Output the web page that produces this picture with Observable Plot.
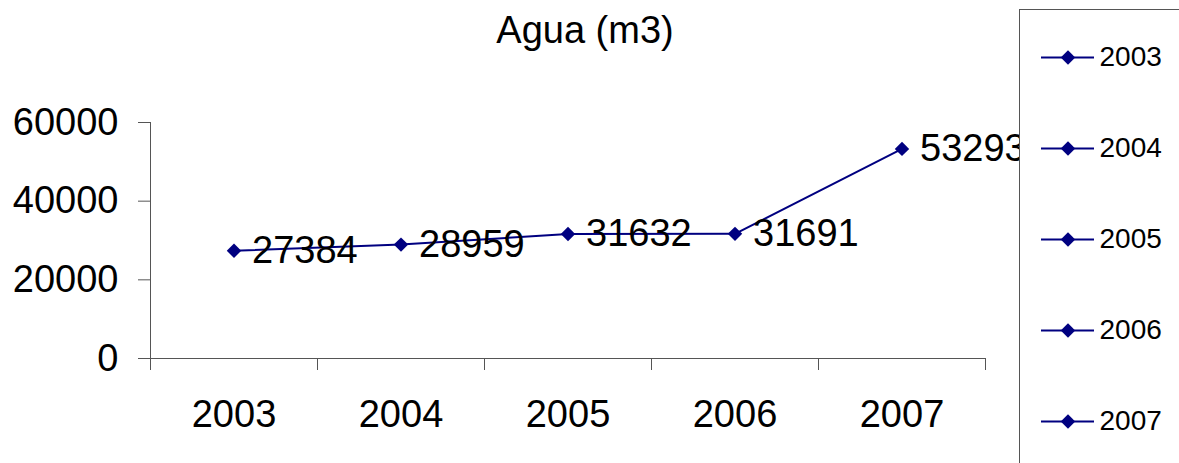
<!DOCTYPE html>
<html><head><meta charset="utf-8">
<script src="https://cdn.jsdelivr.net/npm/d3@7"></script>
<script src="https://cdn.jsdelivr.net/npm/@observablehq/plot@0.6"></script>
<style>
html,body{margin:0;padding:0;background:#fff;overflow:hidden;width:1179px;height:463px;}
#wrap{position:relative;width:1179px;height:463px;overflow:hidden;font-family:"Liberation Sans",Arial,sans-serif;}
#chart{position:absolute;left:0;top:0;}
#title{position:absolute;left:0;top:11px;width:1170px;text-align:center;font-size:38px;line-height:38px;color:#000;}
#legend{position:absolute;left:1019px;top:9px;width:200px;height:480px;}
#legend svg{max-width:none !important;}
</style></head><body>
<div id="wrap"><div id="chart"></div><div id="title"></div><div id="legend"></div></div>
<script>
const title = "Agua (m3)";
const years = [2003, 2004, 2005, 2006, 2007];
const values = [27384, 28959, 31632, 31691, 53293];
const yTicks = [0, 20000, 40000, 60000];
const legendLabels = ["2003", "2004", "2005", "2006", "2007"];

const data = years.map((year, i) => ({year, value: values[i]}));
const xBounds = years.map(y => y - 0.5).concat([years[years.length - 1] + 0.5]);
const navy = "#000080";
const axisColor = "#555";
const font = '"Liberation Sans", Arial, sans-serif';

document.getElementById("title").textContent = title;

const chart = Plot.plot({
  width: 1179, height: 463,
  marginLeft: 150, marginRight: 194, marginTop: 122, marginBottom: 105,
  x: {domain: [xBounds[0], xBounds[xBounds.length - 1]], label: null},
  y: {domain: [yTicks[0], yTicks[yTicks.length - 1]], label: null},
  style: {fontFamily: font, background: "transparent", color: "#000", overflow: "visible"},
  marks: [
    Plot.axisY({ticks: yTicks, tickSize: 12, tickPadding: 20, fontSize: 38, stroke: axisColor, tickFormat: d => String(d), label: null}),
    Plot.axisX({ticks: xBounds, tickSize: 12, tickFormat: () => "", stroke: axisColor, label: null}),
    Plot.axisX({ticks: years, tickSize: 0, tickPadding: 42, fontSize: 38, tickFormat: d => String(d), label: null}),
    Plot.ruleY([yTicks[0]], {stroke: axisColor}),
    Plot.ruleX([xBounds[0]], {stroke: axisColor}),
    Plot.line(data, {x: "year", y: "value", stroke: navy, strokeWidth: 2}),
    Plot.dot(data, {x: "year", y: "value", symbol: "diamond2", r: 6.5, fill: navy, stroke: "none"}),
    Plot.text(data, {x: "year", y: "value", text: d => String(d.value), textAnchor: "start", dx: 18, fontSize: 38, fill: "#000"})
  ]
});
document.getElementById("chart").appendChild(chart);

const legendData = years.map((y, i) => ({year: y, label: legendLabels[i]}));
const legend = Plot.plot({
  width: 170, height: 470,
  marginLeft: 0, marginRight: 0, marginTop: 0, marginBottom: 0,
  x: {domain: [0, 1], range: [21, 74], axis: null},
  y: {type: "point", domain: years, range: [46, 411], padding: 0, axis: null},
  style: {fontFamily: font, background: "#fff", border: "1px solid " + axisColor, color: "#000", maxWidth: "none"},
  marks: [
    Plot.ruleY(legendData, {y: "year", x1: 0, x2: 1, stroke: navy, strokeWidth: 2}),
    Plot.dot(legendData, {x: () => 0.5, y: "year", symbol: "diamond2", r: 6.5, fill: navy, stroke: "none"}),
    Plot.text(legendData, {x: () => 1, y: "year", text: "label", textAnchor: "start", dx: 5, fontSize: 28, fill: "#000"})
  ]
});
document.getElementById("legend").appendChild(legend);
</script>
</body></html>
